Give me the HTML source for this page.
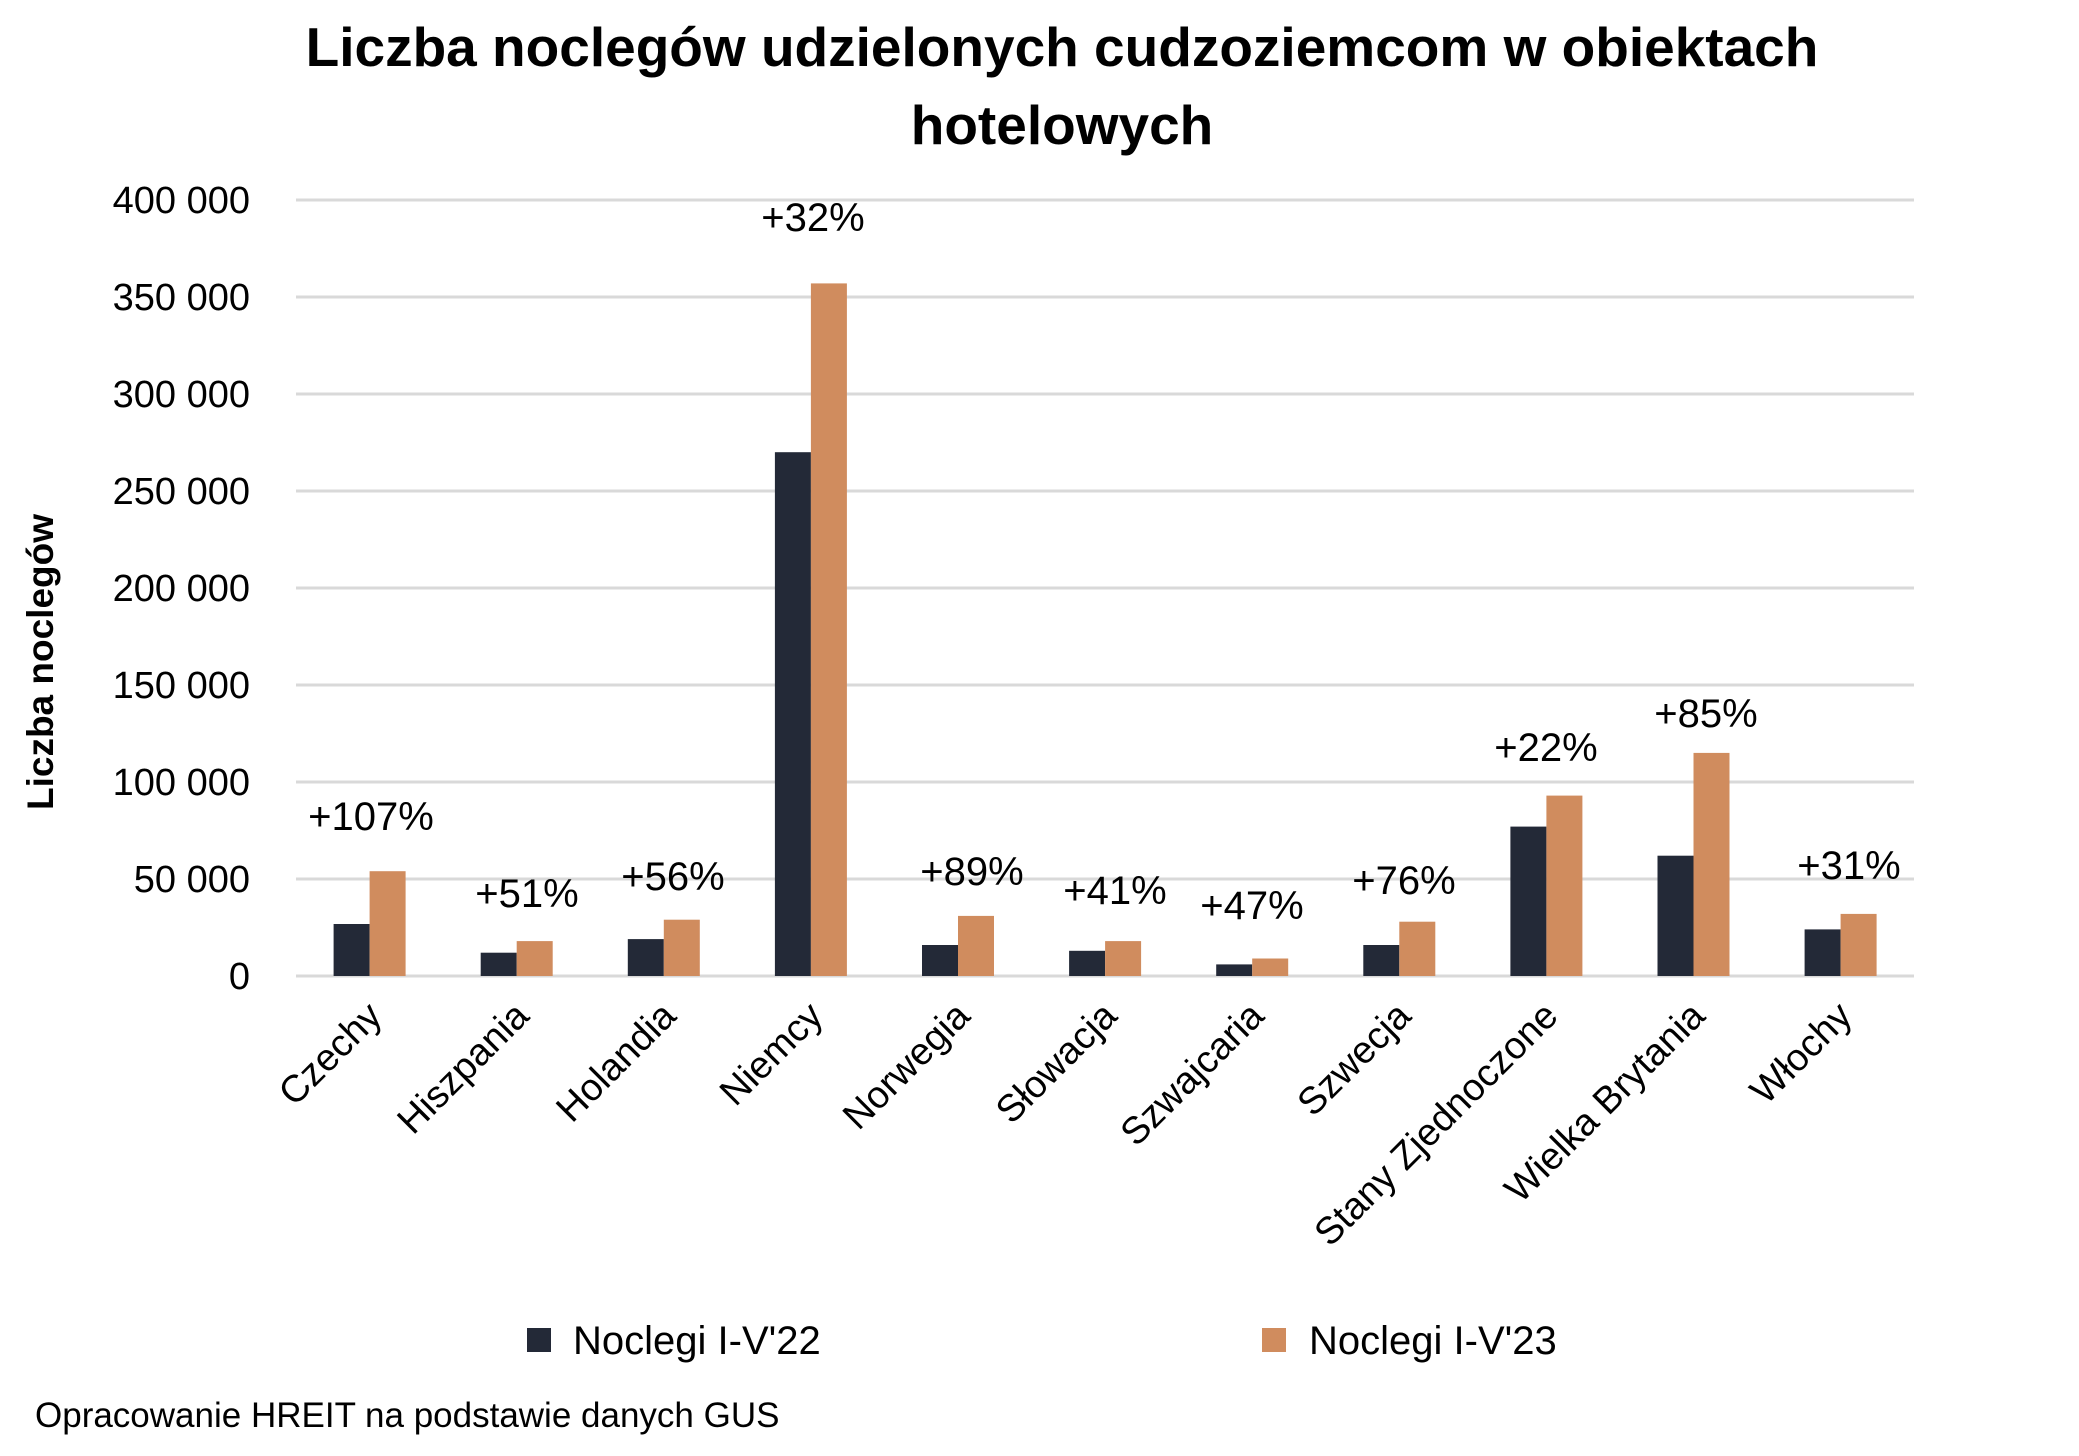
<!DOCTYPE html>
<html><head><meta charset="utf-8"><style>body{margin:0;background:#fff}svg{display:block}text{font-family:"Liberation Sans",sans-serif;fill:#000}</style></head><body>
<svg width="2079" height="1456" viewBox="0 0 2079 1456" xmlns="http://www.w3.org/2000/svg">
<text x="1062" y="66" font-size="55" font-weight="bold" text-anchor="middle">Liczba noclegów udzielonych cudzoziemcom w obiektach</text>
<text x="1062" y="144" font-size="55" font-weight="bold" text-anchor="middle">hotelowych</text>
<g stroke="#d9d9d9" stroke-width="3">
<line x1="296" x2="1914" y1="200" y2="200"/><line x1="296" x2="1914" y1="297" y2="297"/><line x1="296" x2="1914" y1="394" y2="394"/><line x1="296" x2="1914" y1="491" y2="491"/><line x1="296" x2="1914" y1="588" y2="588"/><line x1="296" x2="1914" y1="685" y2="685"/><line x1="296" x2="1914" y1="782" y2="782"/><line x1="296" x2="1914" y1="879" y2="879"/><line x1="296" x2="1914" y1="976" y2="976"/>
</g>
<g font-size="38" text-anchor="end">
<text x="250" y="213">400 000</text><text x="250" y="310">350 000</text><text x="250" y="407">300 000</text><text x="250" y="504">250 000</text><text x="250" y="601">200 000</text><text x="250" y="698">150 000</text><text x="250" y="795">100 000</text><text x="250" y="892">50 000</text><text x="250" y="989">0</text>
</g>
<text transform="translate(53,662) rotate(-90)" font-size="37" font-weight="bold" text-anchor="middle">Liczba noclegów</text>
<g fill="#232937">
<rect x="333.6" y="924" width="36" height="52"/>
<rect x="480.7" y="952.7" width="36" height="23.3"/>
<rect x="627.8" y="939.1" width="36" height="36.9"/>
<rect x="774.9" y="452.2" width="36" height="523.8"/>
<rect x="922" y="945" width="36" height="31"/>
<rect x="1069.1" y="950.8" width="36" height="25.2"/>
<rect x="1216.2" y="964.4" width="36" height="11.6"/>
<rect x="1363.3" y="945" width="36" height="31"/>
<rect x="1510.4" y="826.6" width="36" height="149.4"/>
<rect x="1657.5" y="855.7" width="36" height="120.3"/>
<rect x="1804.6" y="929.4" width="36" height="46.6"/>
</g>
<g fill="#d08c5e">
<rect x="369.6" y="871.2" width="36" height="104.8"/>
<rect x="516.7" y="941.1" width="36" height="34.9"/>
<rect x="663.8" y="919.7" width="36" height="56.3"/>
<rect x="810.9" y="283.4" width="36" height="692.6"/>
<rect x="958" y="915.9" width="36" height="60.1"/>
<rect x="1105.1" y="941.1" width="36" height="34.9"/>
<rect x="1252.2" y="958.5" width="36" height="17.5"/>
<rect x="1399.3" y="921.7" width="36" height="54.3"/>
<rect x="1546.4" y="795.6" width="36" height="180.4"/>
<rect x="1693.5" y="752.9" width="36" height="223.1"/>
<rect x="1840.6" y="913.9" width="36" height="62.1"/>
</g>
<g font-size="40" text-anchor="middle">
<text x="371" y="830">+107%</text>
<text x="527" y="907">+51%</text>
<text x="673" y="890">+56%</text>
<text x="813" y="231">+32%</text>
<text x="972" y="885">+89%</text>
<text x="1115" y="904">+41%</text>
<text x="1252" y="919">+47%</text>
<text x="1404" y="894">+76%</text>
<text x="1546" y="761">+22%</text>
<text x="1706" y="727">+85%</text>
<text x="1849" y="879">+31%</text>
</g>
<g font-size="38" text-anchor="end">
<text transform="translate(384,1018) rotate(-45)">Czechy</text>
<text transform="translate(531,1018) rotate(-45)">Hiszpania</text>
<text transform="translate(678,1018) rotate(-45)">Holandia</text>
<text transform="translate(825,1018) rotate(-45)">Niemcy</text>
<text transform="translate(972,1018) rotate(-45)">Norwegia</text>
<text transform="translate(1119,1018) rotate(-45)">Słowacja</text>
<text transform="translate(1266,1018) rotate(-45)">Szwajcaria</text>
<text transform="translate(1413,1018) rotate(-45)">Szwecja</text>
<text transform="translate(1560,1018) rotate(-45)">Stany Zjednoczone</text>
<text transform="translate(1707,1018) rotate(-45)">Wielka Brytania</text>
<text transform="translate(1854,1018) rotate(-45)">Włochy</text>
</g>
<rect x="527" y="1328" width="24" height="24" fill="#232937"/>
<text x="573" y="1354" font-size="40">Noclegi I-V'22</text>
<rect x="1262" y="1328" width="24" height="24" fill="#d08c5e"/>
<text x="1309" y="1354" font-size="40">Noclegi I-V'23</text>
<text x="35" y="1427" font-size="35">Opracowanie HREIT na podstawie danych GUS</text>
</svg>
</body></html>
